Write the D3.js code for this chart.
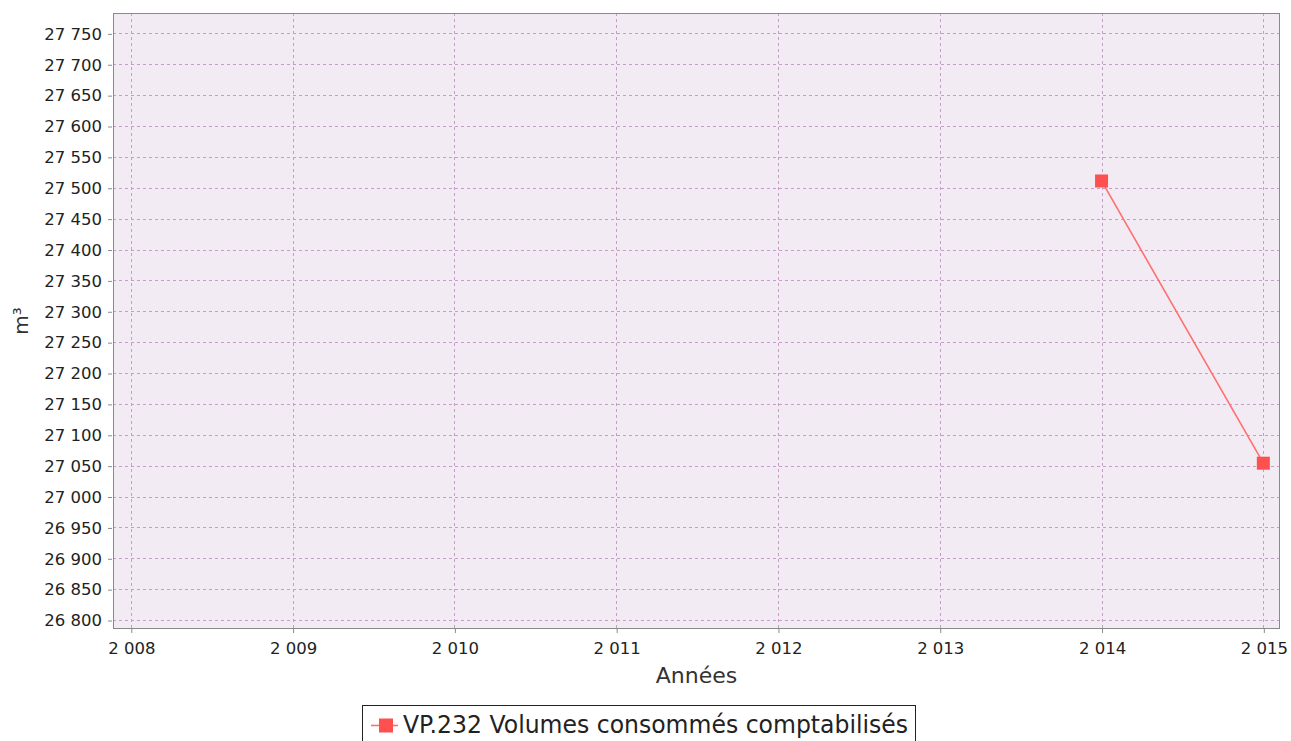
<!DOCTYPE html>
<html>
<head>
<meta charset="utf-8">
<script src="https://cdn.jsdelivr.net/npm/d3@7"></script>
<style>
  body { margin: 0; background: #fff; }
  svg { display: block; font-family: "DejaVu Sans", sans-serif; }
</style>
</head>
<body>
<div id="chart"></div>
<script>
var years = [2014, 2015];
var volumes = [27511, 27054];
var seriesName = "VP.232 Volumes consommés comptabilisés";
var yTicks = d3.range(26800, 27751, 50);
var xTicks = d3.range(2008, 2016, 1);

var width = 1291, height = 741;
var margin = {top: 13, left: 113, bottom: 112, right: 11};

var fr = d3.formatLocale({decimal: ",", thousands: "\u00a0", grouping: [3], currency: ["", " €"]});
var fmt = fr.format(",d");

var x = d3.scaleLinear()
  .domain([2007.89, 2015.103])
  .range([margin.left, width - margin.right]);

var y = d3.scaleLinear()
  .domain([26785.5, 27783])
  .range([height - margin.bottom, margin.top]);

var svg = d3.select("#chart").append("svg")
  .attr("width", width)
  .attr("height", height);

// plot background
svg.append("rect")
  .attr("x", margin.left)
  .attr("y", margin.top)
  .attr("width", width - margin.left - margin.right)
  .attr("height", height - margin.top - margin.bottom)
  .style("fill", "#f3ebf4");

// grid
svg.append("g").selectAll("line")
  .data(yTicks)
  .enter().append("line")
  .attr("x1", margin.left)
  .attr("x2", width - margin.right)
  .attr("y1", (d) => Math.round(y(d)) + 0.5)
  .attr("y2", (d) => Math.round(y(d)) + 0.5)
  .style("stroke", "#c79ccb")
  .style("stroke-width", 1)
  .style("stroke-dasharray", "3,3");

svg.append("g").selectAll("line")
  .data(xTicks)
  .enter().append("line")
  .attr("y1", margin.top)
  .attr("y2", height - margin.bottom)
  .attr("x1", (d) => Math.round(x(d)) + 0.5)
  .attr("x2", (d) => Math.round(x(d)) + 0.5)
  .style("stroke", "#c79ccb")
  .style("stroke-width", 1)
  .style("stroke-dasharray", "3,3");

// plot border
svg.append("rect")
  .attr("x", margin.left + 0.5)
  .attr("y", margin.top + 0.5)
  .attr("width", width - margin.left - margin.right - 1)
  .attr("height", height - margin.top - margin.bottom - 1)
  .style("fill", "none")
  .style("stroke", "#8a8a8a")
  .style("stroke-width", 1);

// axes
var yAxis = d3.axisLeft(y)
  .tickValues(yTicks)
  .tickSize(4)
  .tickPadding(6)
  .tickFormat(fmt);

var xAxis = d3.axisBottom(x)
  .tickValues(xTicks)
  .tickSize(4)
  .tickPadding(9)
  .tickFormat(fmt);

var gy = svg.append("g")
  .attr("transform", "translate(" + (margin.left - 1) + ",0.5)")
  .call(yAxis);
var gx = svg.append("g")
  .attr("transform", "translate(0.5," + (height - margin.bottom) + ")")
  .call(xAxis);

[gy, gx].forEach(function(g) {
  g.select(".domain").remove();
  g.selectAll(".tick line").style("stroke", "#8a8a8a");
  g.selectAll(".tick text")
    .style("font-size", "16.5px")
    .style("fill", "#222")
    .style("font-family", "DejaVu Sans, sans-serif");
});

// axis titles
svg.append("text")
  .attr("transform", "translate(28," + ((margin.top + height - margin.bottom) / 2) + ") rotate(-90)")
  .attr("text-anchor", "middle")
  .style("font-size", "20px")
  .style("fill", "#333")
  .text("m³");

svg.append("text")
  .attr("x", (margin.left + width - margin.right) / 2)
  .attr("y", 683)
  .attr("text-anchor", "middle")
  .style("font-size", "22px")
  .style("fill", "#333")
  .text("Années");

// series
var pts = years.map((d, i) => [d, volumes[i]]);
var line = d3.line()
  .x((d) => x(d[0]))
  .y((d) => y(d[1]));

svg.append("path")
  .datum(pts)
  .attr("d", line)
  .style("fill", "none")
  .style("stroke", "#ff6f6f")
  .style("stroke-width", 1.6);

svg.append("g").selectAll("rect")
  .data(pts)
  .enter().append("rect")
  .attr("x", (d) => x(d[0]) - 6.5)
  .attr("y", (d) => y(d[1]) - 6.5)
  .attr("width", 13)
  .attr("height", 13)
  .style("fill", "#ff5050");

// legend
var lg = svg.append("g");
lg.append("rect")
  .attr("x", 362.5)
  .attr("y", 705.5)
  .attr("width", 553)
  .attr("height", 40)
  .style("fill", "#fff")
  .style("stroke", "#222")
  .style("stroke-width", 1);
lg.append("line")
  .attr("x1", 371).attr("x2", 398)
  .attr("y1", 725.5).attr("y2", 725.5)
  .style("stroke", "#ff6f6f")
  .style("stroke-width", 1.6);
lg.append("rect")
  .attr("x", 379).attr("y", 718.5)
  .attr("width", 14).attr("height", 14)
  .style("fill", "#ff5050");
lg.append("text")
  .attr("x", 403)
  .attr("y", 733)
  .attr("textLength", 505)
  .attr("lengthAdjust", "spacingAndGlyphs")
  .style("font-size", "24px")
  .style("fill", "#222")
  .text(seriesName);
</script>
</body>
</html>
